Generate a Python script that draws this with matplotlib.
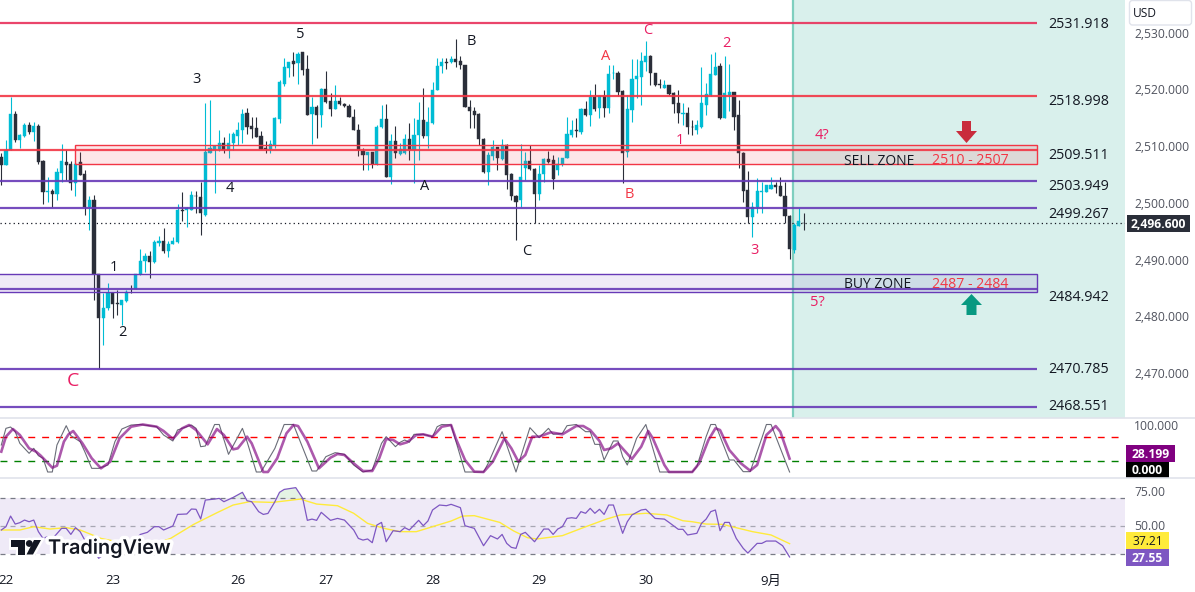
import numpy as np
import matplotlib
matplotlib.use('Agg')
import matplotlib.pyplot as plt
from matplotlib.patches import Rectangle, Polygon, Circle, FancyBboxPatch
import matplotlib.patheffects as pe

plt.rcParams['font.family'] = ['Open Sans', 'Noto Sans CJK SC', 'DejaVu Sans']

# hourly candles
opens = [2508.3,2506.8,2509.5,2515.9,2511.3,2512.0,2513.9,2512.7,2513.7,2507.5,
         2502.1,2502.3,2501.7,2505.5,2507.3,2507.0,2503.6,2507.3,2505.3,2499.4,
         2500.7,2487.7,2479.9,2481.7,2484.3,2482.5,2482.2,2482.9,2485.0,2484.9,
         2487.6,2489.9,2490.8,2489.8,2493.1,2493.4,2491.7,2492.9,2493.3,2498.9,
         2498.9,2499.0,2501.4,2501.2,2498.0,2509.0,2509.5,2509.6,2510.8,2509.5,
         2510.7,2511.9,2513.0,2516.0,2513.7,2513.3,2512.0,2509.8,2509.6,2510.3,
         2515.0,2521.1,2524.0,2525.2,2524.8,2526.7,2523.8,2515.8,2517.0,2515.7,
         2520.3,2518.1,2516.8,2518.1,2517.6,2517.3,2515.4,2513.1,2509.4,2508.7,
         2509.2,2507.0,2513.5,2514.9,2504.8,2511.1,2508.8,2508.9,2511.4,2509.5,
         2512.1,2514.8,2512.0,2514.3,2520.0,2524.3,2525.1,2525.1,2525.5,2525.2,
         2524.5,2517.1,2516.3,2515.8,2511.4,2505.6,2508.5,2510.0,2507.9,2510.3,
         2505.3,2501.4,2500.6,2506.4,2507.5,2506.1,2501.7,2505.3,2507.9,2507.7,
         2506.0,2507.0,2508.0,2512.1,2513.1,2512.7,2516.7,2515.7,2518.9,2516.9,
         2519.1,2516.9,2523.0,2523.1,2519.9,2509.2,2516.5,2522.1,2522.4,2525.1,
         2526.1,2523.0,2521.1,2520.5,2520.9,2519.5,2517.7,2515.8,2516.0,2513.6,
         2513.1,2513.6,2517.4,2519.2,2522.7,2524.3,2515.1,2519.2,2519.7,2515.6,
         2509.0,2502.4,2497.6,2499.4,2502.1,2502.1,2502.7,2503.3,2503.1,2501.4,
         2497.9,2491.9,2496.1,2496.7]
closes = [2506.8,2509.5,2515.9,2511.3,2512.1,2513.9,2512.6,2513.7,2507.4,2502.1,
          2502.2,2501.7,2505.6,2507.5,2506.8,2503.6,2507.0,2505.1,2499.4,2500.7,
          2487.7,2479.9,2481.7,2484.2,2482.3,2482.3,2483.0,2484.4,2484.9,2487.6,
          2489.9,2490.8,2489.7,2493.2,2493.4,2491.7,2492.9,2493.4,2498.9,2498.8,
          2499.2,2501.6,2501.3,2498.3,2509.2,2509.8,2510.2,2510.8,2509.5,2510.7,
          2512.4,2513.0,2515.8,2513.6,2513.2,2511.8,2509.7,2509.6,2510.6,2515.2,
          2521.4,2524.1,2525.0,2524.7,2526.5,2523.6,2515.7,2517.0,2515.7,2520.3,
          2518.0,2516.8,2518.2,2517.6,2517.2,2515.4,2513.1,2509.5,2508.7,2509.1,
          2507.0,2513.5,2514.9,2504.8,2511.0,2508.9,2509.7,2511.4,2509.5,2512.1,
          2514.8,2512.0,2514.4,2520.1,2524.3,2525.0,2524.8,2525.5,2525.1,2524.4,
          2517.0,2516.3,2515.7,2511.4,2505.6,2508.7,2510.1,2508.0,2510.3,2505.1,
          2501.3,2500.4,2504.8,2507.5,2506.1,2501.7,2505.3,2507.9,2507.4,2504.4,
          2507.1,2508.1,2512.3,2513.1,2512.8,2516.7,2515.7,2518.9,2516.7,2519.1,
          2516.9,2522.9,2523.1,2519.8,2509.0,2516.7,2522.1,2522.5,2525.2,2526.0,
          2523.0,2521.0,2520.9,2521.0,2519.3,2517.6,2516.0,2516.0,2513.5,2513.5,
          2513.9,2517.7,2519.3,2522.9,2524.1,2515.1,2519.5,2519.7,2515.4,2508.9,
          2502.3,2497.6,2499.5,2502.2,2502.2,2503.3,2503.3,2502.9,2501.4,2497.9,
          2492.0,2496.3,2497.0,2496.6]
highs = [2508.9,2511.3,2518.9,2516.3,2512.4,2514.2,2514.5,2514.5,2514.1,2507.7,
         2504.7,2502.7,2506.4,2510.6,2509.5,2507.6,2507.4,2509.2,2506.0,2501.3,
         2501.6,2487.7,2484.2,2486.0,2484.5,2484.8,2483.0,2484.8,2485.7,2487.7,
         2492.1,2491.4,2491.6,2493.7,2494.4,2495.7,2493.5,2494.1,2500.0,2502.0,
         2499.5,2502.3,2502.3,2503.9,2517.7,2518.3,2510.2,2513.1,2511.7,2512.5,
         2512.7,2514.5,2516.7,2516.9,2515.4,2515.4,2512.9,2511.0,2511.3,2515.3,
         2521.8,2525.7,2525.1,2526.7,2526.8,2526.7,2526.2,2518.9,2517.4,2520.4,
         2523.4,2519.5,2521.0,2518.8,2517.7,2517.6,2516.7,2514.1,2509.8,2509.2,
         2509.2,2513.9,2517.4,2517.6,2512.4,2513.7,2510.7,2512.4,2514.2,2515.1,
         2518.0,2520.4,2517.1,2521.5,2525.8,2525.7,2525.8,2526.0,2529.0,2526.0,
         2524.5,2518.4,2517.0,2516.1,2511.6,2509.2,2511.3,2510.1,2511.4,2510.6,
         2505.4,2501.6,2510.6,2509.1,2510.3,2506.3,2506.9,2508.0,2509.4,2508.6,
         2508.3,2508.1,2515.4,2514.8,2515.1,2516.9,2518.1,2520.0,2521.1,2519.2,
         2520.1,2524.5,2524.5,2523.4,2520.1,2519.2,2525.5,2525.5,2526.7,2528.7,
         2526.2,2523.1,2522.1,2521.8,2521.0,2519.8,2520.1,2517.7,2517.0,2514.7,
         2514.8,2524.2,2521.3,2526.5,2526.7,2524.8,2526.1,2524.7,2519.8,2518.3,
         2509.2,2505.8,2500.4,2504.6,2503.9,2503.4,2504.8,2503.8,2504.8,2503.9,
         2498.0,2496.6,2499.2,2498.4]
lows = [2503.3,2506.8,2509.5,2510.9,2509.8,2511.8,2512.4,2511.1,2507.1,2500.0,
        2500.4,2499.4,2500.7,2503.9,2504.2,2502.4,2501.3,2505.1,2498.0,2495.3,
        2483.0,2470.8,2475.1,2481.3,2479.8,2480.4,2478.6,2482.7,2484.3,2484.9,
        2487.4,2488.0,2486.9,2489.5,2492.6,2491.3,2490.7,2492.9,2493.1,2496.9,
        2495.9,2499.0,2498.3,2494.5,2497.9,2508.9,2501.9,2509.4,2509.0,2508.0,
        2509.5,2510.4,2510.7,2512.4,2511.6,2511.8,2509.6,2509.0,2508.9,2509.9,
        2514.3,2520.7,2522.4,2522.5,2521.1,2522.7,2515.7,2510.6,2511.6,2513.6,
        2517.7,2515.5,2516.7,2517.4,2517.0,2515.3,2513.0,2508.4,2505.9,2505.9,
        2506.4,2506.8,2513.3,2504.8,2503.5,2508.0,2508.6,2508.8,2507.7,2503.6,
        2507.7,2511.6,2509.9,2514.1,2520.0,2523.1,2523.8,2524.9,2524.2,2523.8,
        2517.0,2513.3,2513.3,2510.4,2505.5,2503.3,2507.7,2506.0,2507.7,2502.7,
        2500.7,2493.6,2499.4,2504.2,2506.0,2496.6,2500.6,2503.9,2507.2,2502.7,
        2505.1,2506.6,2508.0,2511.8,2511.7,2512.3,2515.5,2513.7,2516.3,2515.1,
        2515.3,2516.0,2522.1,2519.0,2503.6,2508.3,2514.5,2518.6,2517.4,2523.5,
        2521.0,2520.8,2520.5,2520.5,2519.2,2516.0,2514.2,2513.9,2512.3,2512.1,
        2512.4,2513.3,2515.7,2519.0,2522.7,2515.0,2515.1,2516.3,2513.0,2506.3,
        2500.4,2496.7,2494.2,2498.3,2498.3,2502.1,2502.6,2501.9,2501.3,2496.6,
        2490.2,2491.4,2496.1,2495.3]

last_price = 2496.6
red_levels = [2531.918, 2518.998, 2509.511]
purple_levels = [2503.949, 2499.267, 2484.942, 2470.785, 2464.2]
sell_zone = (2507.0, 2510.3)
buy_zone = (2484.5, 2487.7)

price_ticks = [2530, 2520, 2510, 2500, 2490, 2480, 2470]
date_ticks = [1, 24, 51, 70, 93, 116, 139, 166]
date_labels = ['22', '23', '26', '27', '28', '29', '30', '9月']

# stochastic, vertices of the two lines
stoch_k_x = [0,1,2,3,4,6,7,8,9,10,11,12,14,15,17,18,19.5,21,23,24.5,26,28,30,33.5,35,37,38,41,42,43,44,46,47,49,52,53,55,56,59,61,63,67,68,70,72,74,76,78,80,82,83,85,
             86,87,88,89,91,93,94,95,97,100,102,104,105,108,111,114,116,118,119,121,122,124,126,127,128,129,130,132,133,134,135,137,139,142,144,149,150,152,153,154,157,158,160,161.5,164,165,166,170]
stoch_k = [56.8,91.9,94.7,84.9,60.3,39.3,49.8,34.4,28.8,0,0,56.8,97.5,76.5,63.9,42.8,7.7,7.7,14.7,63.9,90.5,98.9,100,95.4,77.9,65.3,88.4,98.9,91.9,53.3,54.7,100,100,37.2,91.9,63.9,0,0,49.8,100,100,2.1,2.1,32.3,40.7,37.2,14.7,0,4.2,60.3,74.4,53.3,
           62.5,67.4,62.5,79.3,79.3,74.4,95.4,100,98.9,0,0,0,18.2,84.9,0,93.3,72.3,91.9,79.3,81.4,97.5,100,84.9,84.9,58.2,58.2,25.3,65.3,65.3,32.3,14.7,70.9,100,0,0,0,11.2,74.4,100,100,25.3,25.3,0.7,0.7,70.9,100,100,0]
stoch_d_x = [0,1,2.5,4,6,7.5,8.5,11,12,13.5,14.5,15.5,17.5,19.5,21.5,23.5,25.5,28,30.5,33.5,35,37,39,40.5,42,44.5,46.5,48,50,51,53,54,56.5,57.5,59.5,61.5,63,64,66,68.5,71,72.5,74,76,78,80,81.5,83,84.5,86,
             87.5,89.5,91,93,95,97,98,100,102,104,106,108.5,110,111.5,113,114.5,116,118.5,121,124,125.5,127,129,130,131.5,133,136,138,139.5,140.5,143,144,149,150.5,152.5,154,155,157,159.5,161.5,163,165,167,168,170]
stoch_d = [42.8,74.4,90.5,77.9,49.8,42.8,34.4,9.1,13.3,63.9,79.3,86.3,60.3,28.8,7.7,21.7,70.9,95.4,100,95.4,86.3,69.5,91.9,98.9,88.4,58.2,90.5,77.9,47.7,49.8,74.4,60.3,0,0,28.8,81.4,98.9,96.8,63.9,7.7,30.2,37.9,35.8,18.2,2.1,2.1,28.8,69.5,67.4,58.2,
           62.5,77.9,79.3,74.4,95.4,98.9,70.9,25.3,0.7,0,21.7,70.9,49.8,21.7,35.8,74.4,74.4,83.5,79.3,96.8,96.8,88.4,65.3,46.3,49.8,60.3,27.4,53.3,86.3,70.9,14.7,0,0,18.2,67.4,91.9,88.4,46.3,18.2,2.8,14.7,77.9,96.8,84.9,28.2]

# RSI and its moving average, vertices again
rsi_x = [0,1,2,3,4,5,6,7,8,9,10,11,13,14,15,16,17,18,19.5,21,22,24,26,28,30,31.5,33,34,35,37,38,40,41,42,43,44,46,47,48,50,52,53,54,55.5,56.5,57.5,59,60,61,63.5,65,66,67,68,69,71,72.5,74,76,77,78,79,80,81,82,83,84.5,86,
         87,88,90,91,92,93,94.5,96,97,99,100,102,104,105.5,107,108,109,110,111,112,113,115,117,118,119,120,121,122,123,124,125,126,127,128,129,130,131,132,134,135,136,138,139,141,143,144,146,147,148,150,151,152,153,154,155,156,157,158.5,160,161,163,164,165,167,168.5,170]
rsi = [47.1,49.5,57.2,51.4,52.4,54.3,53.1,54.3,45.9,41.0,42.3,40.6,48.3,48.3,43.9,48.8,45.9,39.8,35.0,26.6,29.0,32.6,37.4,37.4,43.9,45.4,49.5,49.5,47.1,50.0,58.4,58.7,62.3,62.1,55.1,68.8,69.5,70.0,67.6,70.7,74.4,68.3,67.6,60.4,58.4,59.1,67.6,74.4,76.5,77.8,70.0,54.1,55.0,54.1,59.9,54.1,55.5,54.3,47.1,41.0,39.8,40.6,37.9,50.7,52.6,38.6,46.6,45.9,
       48.8,47.1,54.1,50.2,53.6,61.6,65.2,64.7,65.7,63.3,50.2,48.3,35.7,43.0,40.6,43.9,37.4,34.5,33.8,43.9,45.4,38.6,47.8,47.8,43.9,47.8,49.5,55.5,56.0,55.5,60.4,59.2,62.8,59.2,62.1,58.4,65.2,65.2,44.7,53.1,58.0,61.6,62.1,55.5,55.0,52.6,47.6,47.6,43.5,44.7,51.9,55.0,60.4,61.6,46.6,52.6,52.6,41.0,33.8,30.4,37.4,37.4,39.1,39.1,35.7,27.55]
rsi_ma_x = [0,4,7,10.5,14,17,21.5,25,28.5,33.5,36.5,41.5,46.5,50,53.5,58.5,64.5,68,72.5,76,79,82.5,86,89.5,93,97,99.5,102,107.5,110.5,113.5,115.5,121,125.5,130.5,133.5,139,143.5,147,149,152,155.5,162,166,170]
rsi_ma = [47.1,47.1,49.5,47.8,48.8,47.1,41.0,38.6,37.4,37.4,41.0,51.2,59.6,65.2,67.6,67.1,69.5,65.9,64.7,59.2,51.9,48.3,45.9,45.9,49.5,53.6,57.2,57.5,52.6,46.4,41.5,40.6,43.0,48.8,55.0,58.0,59.2,58.0,53.8,53.1,51.4,51.2,45.9,43.5,37.21]

W, H = 1195, 592
UP = '#00BCD4'
DOWN = '#2A2E39'
RED = '#F23645'
PINK = '#E91E63'
PURPLE = '#673AB7'
INK = '#131722'
AXIS = '#50535E'
BORDER = '#E0E3EB'
DY = 1.5  # Open Sans sits a bit high when centred

# one candle is 4.637 px wide, the first one sits at 1.3 px
X0 = -1.3 / 4.637
X1 = (1125 - 1.3) / 4.637
ZONE_END = (1037 - 1.3) / 4.637
SELL_START = (74.5 - 1.3) / 4.637
FUTURE = (793 - 1.3) / 4.637


def pane(top, bottom):
    ax = fig.add_axes([0, 1 - bottom / H, 1125 / W, (bottom - top) / H])
    ax.set_xlim(X0, X1)
    ax.axis('off')
    return ax


fig = plt.figure(figsize=(W / 100, H / 100), dpi=100, facecolor='white')

# main pane
ax = pane(0, 418)
ax.set_ylim(2535.95 - 418 / 5.67, 2535.95)

ax.axvspan(FUTURE, X1, color='#D9F0EC', lw=0, zorder=0)
ax.axvline(FUTURE, color='#7FCFBF', lw=1.6, zorder=1)

x = np.arange(len(opens))
o = np.array(opens)
c = np.array(closes)
up = c >= o
colors = [UP if u else DOWN for u in up]
ax.vlines(x, lows, highs, colors=colors, lw=0.8, zorder=2)
ax.bar(x, np.abs(c - o), bottom=np.minimum(o, c), width=0.68, color=colors,
       edgecolor=colors, lw=0.3, zorder=3)

ax.plot([X0, X1], [last_price, last_price], color=INK, lw=0.9, ls=(0, (1, 2.5)), zorder=2)

ax.add_patch(Rectangle((SELL_START, sell_zone[0]), ZONE_END - SELL_START, sell_zone[1] - sell_zone[0],
                       facecolor=RED, alpha=0.12, lw=0, zorder=4))
ax.add_patch(Rectangle((SELL_START, sell_zone[0]), ZONE_END - SELL_START, sell_zone[1] - sell_zone[0],
                       fill=False, edgecolor=RED, lw=1.0, zorder=4))
ax.add_patch(Rectangle((X0 - 2, buy_zone[0]), ZONE_END - X0 + 2, buy_zone[1] - buy_zone[0],
                       facecolor=PURPLE, alpha=0.1, lw=0, zorder=4))
ax.add_patch(Rectangle((X0 - 2, buy_zone[0]), ZONE_END - X0 + 2, buy_zone[1] - buy_zone[0],
                       fill=False, edgecolor=PURPLE, lw=1.0, zorder=4))

for i, lvl in enumerate(red_levels):
    ax.plot([X0, ZONE_END], [lvl, lvl], color='#E8315B' if i == 0 else RED, lw=1.6,
            alpha=0.9, solid_capstyle='butt', zorder=5)
for lvl in purple_levels:
    ax.plot([X0, ZONE_END], [lvl, lvl], color=PURPLE, lw=1.6, alpha=0.9,
            solid_capstyle='butt', zorder=5)

# stochastic pane
ax2 = pane(418, 478)
ax2.set_ylim((472 - 478) / 0.475, (472 - 418) / 0.475)
ax2.axhline(73, color='#FF0000', lw=1.0, ls=(0, (5, 5)))
ax2.axhline(24, color='#008000', lw=1.0, ls=(0, (5, 5)))
ax2.plot(stoch_k_x, stoch_k, color='#6A6D78', lw=0.8)
ax2.plot(stoch_d_x, stoch_d, color='#800080', lw=1.9, alpha=0.65)

# RSI pane
ax3 = pane(478, 568)
ax3.set_ylim(50 - 42 / 1.38, 50 + 48 / 1.38)
ax3.axhspan(30, 70, color='#7E57C2', alpha=0.12, lw=0)
ax3.axhline(70, color='#787B86', lw=0.9, ls=(0, (4, 4)))
ax3.axhline(50, color='#787B86', lw=0.9, alpha=0.6, ls=(0, (4, 4)))
ax3.axhline(30, color='#787B86', lw=0.9, ls=(0, (4, 4)))
ax3.fill_between(rsi_x, rsi, 70, where=np.array(rsi) > 70, interpolate=True,
                 color='#4CAF50', alpha=0.15, lw=0)
ax3.plot(rsi_ma_x, rsi_ma, color='#FFEB3B', lw=1.0)
ax3.plot(rsi_x, rsi, color='#7E57C2', lw=0.9)

# everything else is placed in screen pixels
top = fig.add_axes([0, 0, 1, 1], facecolor='none')
top.set_xlim(0, W)
top.set_ylim(H, 0)
top.axis('off')

top.plot([0, W], [418, 418], color=BORDER, lw=1.2)
top.plot([0, W], [478, 478], color=BORDER, lw=1.2)

wave_labels = [('5', 300, 33, INK), ('3', 197, 78, INK), ('4', 230, 187, INK), ('1', 114, 266, INK),
               ('2', 122, 331, INK), ('B', 471, 40, INK), ('A', 425, 185, INK), ('C', 527, 250, INK),
               ('A', 606, 55, RED), ('C', 648, 29, PINK), ('2', 726, 42, PINK), ('1', 680, 139, PINK),
               ('B', 629, 193, RED), ('3', 755, 249, PINK), ('4?', 822, 134, PINK), ('5?', 817, 301, PINK)]
for s, tx, ty, col in wave_labels:
    top.text(tx, ty + DY, s, color=col, fontsize=10.5, ha='center', va='center')
top.text(73, 380 + DY, 'C', color=PINK, fontsize=14, ha='center', va='center')

level_labels = [('2531.918', 23), ('2518.998', 100), ('2509.511', 154), ('2503.949', 185),
                ('2499.267', 213), ('2484.942', 296), ('2470.785', 368), ('2468.551', 405)]
for s, ty in level_labels:
    top.text(1048, ty + DY, s, color=INK, fontsize=10.3, ha='left', va='center')

clip = Rectangle((830, 146), 200, 18, transform=top.transData)
sell = top.text(844, 160 + DY, 'SELL ZONE', color=INK, fontsize=10, ha='left', va='center', zorder=6)
sell.set_clip_path(clip)
top.text(932, 158.5 + DY, '2510 - 2507', color=RED, fontsize=10.2, ha='left', va='center', zorder=6)
top.text(844, 282.5 + DY, 'BUY ZONE', color=INK, fontsize=10, ha='left', va='center', zorder=6)
top.text(932, 282.5 + DY, '2487 - 2484', color=RED, fontsize=10.2, ha='left', va='center', zorder=6)

# zone arrows
top.add_patch(Polygon([(962, 121), (971, 121), (971, 131), (977, 131), (966.5, 143), (956, 131), (962, 131)],
                      facecolor='#C92C3C', lw=0))
top.add_patch(Polygon([(966.5, 315), (976.5, 315), (976.5, 305), (982, 305), (971.5, 294), (961, 305), (966.5, 305)],
                      facecolor='#089981', lw=0))

# price scale
for p in price_ticks:
    ty = (2535.95 - p) * 5.67 - 1
    top.text(1134, ty + DY, f'{p:,}.000', color=AXIS, fontsize=8.7, ha='left', va='center')
top.text(1134, 425 + DY, '100.000', color=AXIS, fontsize=8.7, ha='left', va='center')
top.text(1134, 491 + DY, '75.00', color=AXIS, fontsize=8.7, ha='left', va='center')
top.text(1134, 525 + DY, '50.00', color=AXIS, fontsize=8.7, ha='left', va='center')

top.add_patch(FancyBboxPatch((1129.5 + 3, 0.5 + 3), 62 - 6, 24.5 - 6, boxstyle='round,pad=3',
                             facecolor='white', edgecolor=BORDER, lw=1))
top.text(1133, 12 + DY, 'USD', color=INK, fontsize=8.6, ha='left', va='center')

tags = [(1127, 214.5, 63, 17.5, '#2A2E39', 'white', '2,496.600', True),
        (1126, 445, 49, 17, '#800080', 'white', '28.199', True),
        (1126, 462, 43, 16, '#000000', 'white', '0.000', True),
        (1126, 532, 43, 17.3, '#FFEB3B', INK, '37.21', False),
        (1126, 549.3, 43, 16.5, '#7E57C2', 'white', '27.55', True)]
for tx, ty, tw, th, bg, fg, s, bold in tags:
    top.add_patch(Rectangle((tx, ty), tw, th, facecolor=bg, lw=0))
    top.text(tx + tw / 2, ty + th / 2 + 1, s, color=fg, fontsize=8.7, ha='center', va='center',
             fontweight='bold' if bold else 'normal')

# dates
for t, s in zip(date_ticks, date_labels):
    top.text(1.3 + 4.637 * t, 580 + 1, s, color=INK, fontsize=9.5, ha='center', va='center')

# logo
halo = [pe.withStroke(linewidth=5, foreground='white')]
for poly in ([(11, 540), (25, 540), (25, 554.5), (18, 554.5), (18, 547), (11, 547)],
             [(34, 540), (41, 540), (33, 554.5), (26.5, 554.5)]):
    top.add_patch(Polygon(poly, facecolor='white', edgecolor='white', lw=3.5))
top.add_patch(Circle((29.3, 543.5), 3.4, facecolor='white', edgecolor='white', lw=3.5))
for poly in ([(11, 540), (25, 540), (25, 554.5), (18, 554.5), (18, 547), (11, 547)],
             [(34, 540), (41, 540), (33, 554.5), (26.5, 554.5)]):
    top.add_patch(Polygon(poly, facecolor=INK, lw=0))
top.add_patch(Circle((29.3, 543.5), 3.4, facecolor=INK, lw=0))
top.text(48, 548.5, 'TradingView', color=INK, fontsize=14.3, fontweight='semibold', family='Inter',
         ha='left', va='center', path_effects=halo)

fig.savefig('out.png', dpi=100)
